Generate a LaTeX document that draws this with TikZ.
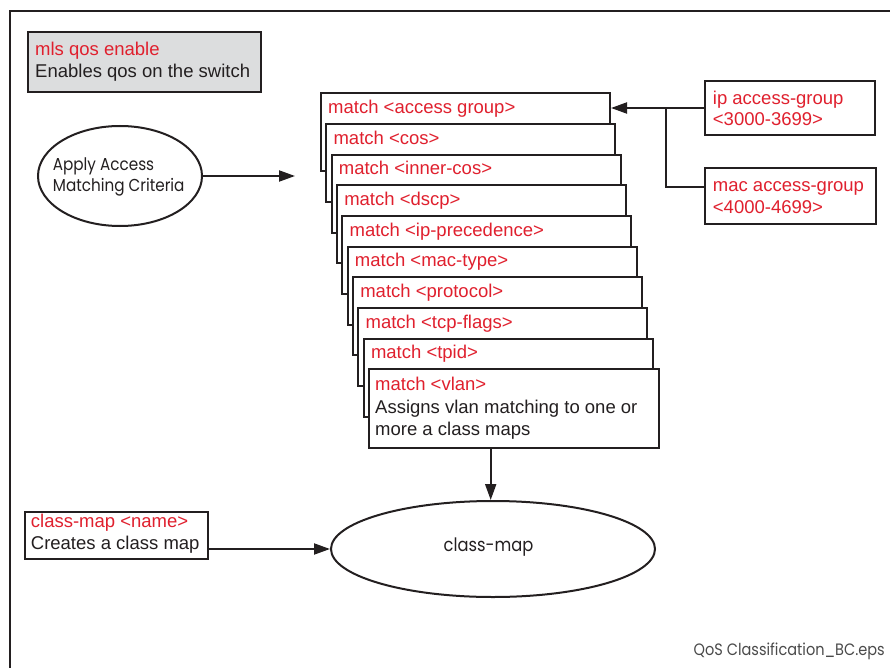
\documentclass[tikz,border=0pt]{standalone}
\usepackage{fontspec}
\setmainfont{Liberation Sans}
\newfontfamily\avfont[FakeStretch=0.88]{Poppins}
\usetikzlibrary{arrows.meta,shapes.geometric}
\definecolor{ink}{HTML}{231F20}
\definecolor{cred}{HTML}{E0202E}
\definecolor{boxgray}{HTML}{DCDDDE}
\definecolor{footgray}{HTML}{4A4A4A}
\begin{document}
\begin{tikzpicture}[x=1pt,y=-1pt,
  frameline/.style={draw=ink,line width=2pt},
  cbox/.style={draw=ink,line width=2pt,fill=white,rectangle,anchor=north west,inner sep=0pt},
  rtext/.style={text=cred,anchor=base west,inner sep=0pt,font=\fontsize{18.5}{22}\selectfont},
  btext/.style={text=ink,anchor=base west,inner sep=0pt,font=\fontsize{18.5}{22}\selectfont},
  avtext/.style={text=ink,anchor=base west,inner sep=0pt,font=\avfont\fontsize{17.3}{20}\selectfont},
  conn/.style={draw=ink,line width=2pt},
  arr/.style={draw=ink,line width=2pt,-{Triangle[length=16pt,width=11pt]}},
  oval/.style={draw=ink,line width=2pt,ellipse,inner sep=0pt},
]
\useasboundingbox (0,0) rectangle (890,668);
% outer frame
\draw[frameline] (10,680) -- (10,11) -- (900,11);

% mls qos box
\node[cbox,fill=boxgray,minimum width=233.3pt,minimum height=60pt] (mls) at (26.7,30.7) {};
\node[rtext] (mlst1) at (35,55.8) {mls qos enable};
\node[btext] (mlst2) at (35,77.2) {Enables qos on the switch};

% apply ellipse
\node[oval,minimum width=164pt,minimum height=100pt] (apply) at (120,176) {};
\node[avtext] (applyt1) at (52.7,170.5) {Apply Access};
\node[avtext] (applyt2) at (52.7,191.2) {Matching Criteria};
\coordinate (applyend) at (295,176);
\draw[arr] (apply.east) -- (applyend);

% stacked match boxes
\foreach \i/\t in {0/access group,1/cos,2/inner-cos,3/dscp,4/ip-precedence,5/mac-type,6/protocol,7/tcp-flags,8/tpid} {
  \node[cbox,minimum width=289pt,minimum height=78pt] (m\i) at ({320+5.35*\i},{92.3+30.67*\i}) {};
  \node[rtext] (mt\i) at ({328+5.35*\i},{113.6+30.67*\i}) {match <\t>};
}
\node[cbox,minimum width=289.4pt,minimum height=78.4pt] (m9) at (368.3,368.3) {};
\node[rtext] (mt9) at (375,390.5) {match <vlan>};
\node[btext] (mt9b) at (375,413.2) {Assigns vlan matching to one or};
\node[btext] (mt9c) at (375,435.5) {more a class maps};

% access-group boxes
\node[cbox,minimum width=170pt,minimum height=54pt] (ip) at (704.3,80) {};
\node[rtext] (ipt1) at (712.7,104.8) {ip access-group};
\node[rtext] (ipt2) at (712.7,125.8) {<3000-3699>};
\node[cbox,minimum width=170.7pt,minimum height=55.4pt] (mac) at (704.3,167.3) {};
\node[rtext] (mact1) at (712.7,191.5) {mac access-group};
\node[rtext] (mact2) at (712.7,213.2) {<4000-4699>};
\coordinate (jn) at (666,107.3);
\coordinate (macin) at (704.3,186.7);
\draw[arr] (ip.west) -- (ip.west -| m0.east);
\draw[conn] (macin) -| (jn);

% class-map
\node[oval,minimum width=324pt,minimum height=96pt] (cmap) at (493,549) {};
\node[text=ink,font=\avfont\fontsize{18.5}{22}\selectfont,inner sep=0pt] (cmapt) at (488.5,546.7) {class-map};
\coordinate (vlandown) at (490.7,447.5);
\draw[arr] (vlandown) -- (vlandown |- cmap.north);

\node[cbox,minimum width=182.7pt,minimum height=47.3pt] (cname) at (24,511) {};
\node[rtext] (cnamet1) at (30.7,527.5) {class-map <name>};
\node[btext] (cnamet2) at (30.7,549.8) {Creates a class map};
\draw[arr] (cname.east |- cmap.west) -- (cmap.west);

% footer
\node[text=footgray,anchor=base east,inner sep=0pt,font=\avfont\fontsize{16.5}{19}\selectfont] (foot) at (885,655) {QoS Classification\_BC.eps};
\end{tikzpicture}
\end{document}
